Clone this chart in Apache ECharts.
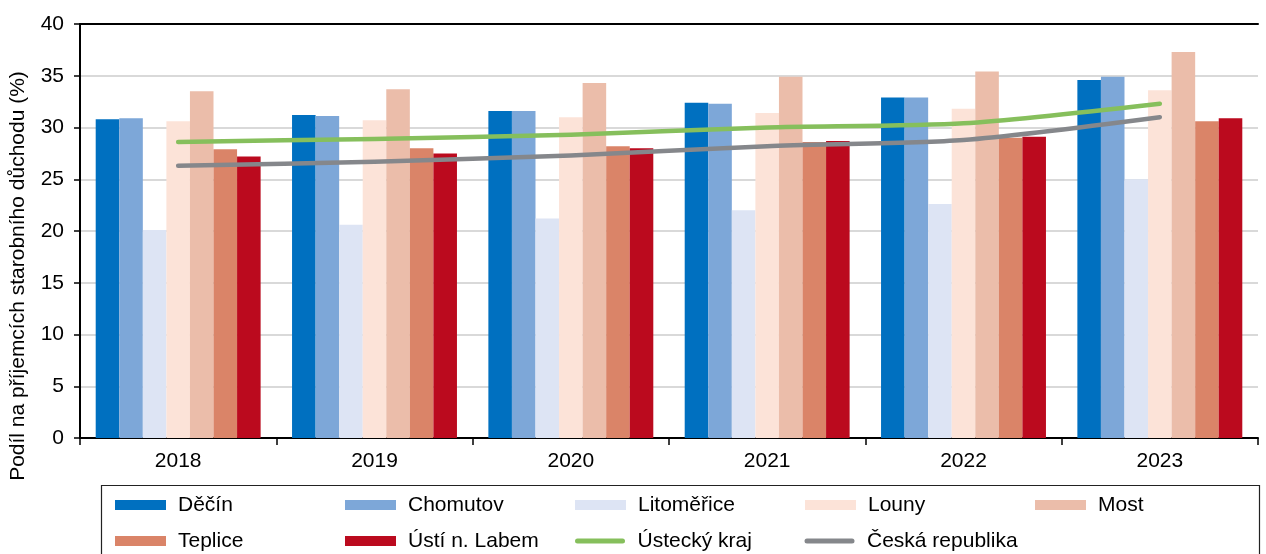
<!DOCTYPE html>
<html>
<head>
<meta charset="utf-8">
<script src="https://cdn.jsdelivr.net/npm/echarts@6/dist/echarts.min.js"></script>
<style>
  html, body { margin: 0; padding: 0; background: #fff; }
  #chart { width: 1266px; height: 554px; }
</style>
</head>
<body>
<div id="chart"></div>
<script>
// Podíl příjemců starobního důchodu podle okresů Ústeckého kraje
const years = ['2018', '2019', '2020', '2021', '2022', '2023'];

const decin       = [30.8, 31.2, 31.6, 32.4, 32.9, 34.6];
const chomutov    = [30.9, 31.1, 31.6, 32.3, 32.9, 34.9];
const litomerice  = [20.1, 20.6, 21.2, 22.0, 22.6, 25.0];
const louny       = [30.6, 30.7, 31.0, 31.4, 31.8, 33.6];
const most        = [33.5, 33.7, 34.3, 34.9, 35.4, 37.3];
const teplice     = [27.9, 28.0, 28.2, 28.6, 29.0, 30.6];
const ustiLabem   = [27.2, 27.5, 28.0, 28.7, 29.1, 30.9];
const usteckyKraj = [28.6, 28.9, 29.3, 30.0, 30.4, 32.3];
const ceskaRep    = [26.3, 26.7, 27.3, 28.2, 28.8, 31.0];

const yTicks = [0, 5, 10, 15, 20, 25, 30, 35, 40];

const FONT = '"Liberation Sans", Arial, sans-serif';
// thick rounded stroke used as the legend swatch of the line series
const LINE_ICON = 'path://M0,0M50,10M2.5,2.5L47.5,2.5A2.5,2.5,0,0,1,47.5,7.5L2.5,7.5A2.5,2.5,0,0,1,2.5,2.5Z';

function bar(name, data, color) {
  return {
    name, type: 'bar', data,
    barGap: '0%', barCategoryGap: '16%',
    itemStyle: { color },
    emphasis: { disabled: true }
  };
}
function line(name, data, color) {
  return {
    name, type: 'line', data,
    symbol: 'none', smooth: 0.25,
    lineStyle: { color, width: 4.5, cap: 'round', join: 'round' },
    itemStyle: { color },
    z: 5,
    emphasis: { disabled: true }
  };
}

const chart = echarts.init(document.getElementById('chart'), null, { renderer: 'canvas' });

chart.setOption({
  animation: false,
  backgroundColor: '#ffffff',
  textStyle: { fontFamily: FONT },
  grid: { left: 80, right: 8, top: 24, bottom: 116, containLabel: false },
  xAxis: [
    {
      type: 'category', data: years,
      axisLine: { lineStyle: { color: '#000', width: 2 } },
      axisTick: { show: true, alignWithLabel: false, length: 7, lineStyle: { color: '#000', width: 1.5 } },
      axisLabel: { color: '#000', fontSize: 21, fontFamily: FONT, margin: 13 },
      splitLine: { show: false }
    },
    {
      type: 'category', data: years, position: 'top',
      axisLine: { show: true, lineStyle: { color: '#000', width: 2 } },
      axisTick: { show: false }, axisLabel: { show: false }, splitLine: { show: false }
    }
  ],
  yAxis: {
    type: 'value',
    min: yTicks[0], max: yTicks[yTicks.length - 1], interval: 5,
    axisLine: { show: true, lineStyle: { color: '#000', width: 2 } },
    axisTick: { show: true, length: 6, lineStyle: { color: '#000', width: 1.5 } },
    axisLabel: { color: '#000', fontSize: 21, fontFamily: FONT, margin: 16 },
    splitLine: { show: true, lineStyle: { color: '#cccccc', width: 1.5 } }
  },
  legend: {
    left: 115, top: 487, width: 1150,
    orient: 'horizontal',
    itemWidth: 51, itemHeight: 10, itemGap: 0,
    padding: [0, 0, 0, 0],
    textStyle: {
      color: '#000', fontSize: 21, fontFamily: FONT,
      width: 167, lineHeight: 36, padding: [0, 0, 0, 7]
    },
    data: [
      { name: 'Děčín', icon: 'rect' },
      { name: 'Chomutov', icon: 'rect' },
      { name: 'Litoměřice', icon: 'rect' },
      { name: 'Louny', icon: 'rect' },
      { name: 'Most', icon: 'rect' },
      { name: 'Teplice', icon: 'rect' },
      { name: 'Ústí n. Labem', icon: 'rect' },
      { name: 'Ústecký kraj', icon: LINE_ICON },
      { name: 'Česká republika', icon: LINE_ICON }
    ]
  },
  graphic: [
    {
      type: 'rect',
      shape: { x: 101.5, y: 485.5, width: 1158, height: 80 },
      style: { fill: 'none', stroke: '#222', lineWidth: 1.2 },
      silent: true, z: -1
    },
    {
      type: 'text',
      x: 18, y: 276,
      rotation: Math.PI / 2,
      style: {
        text: 'Podíl na příjemcích starobního důchodu (%)',
        fontSize: 21, fontFamily: FONT, fill: '#000',
        align: 'center', verticalAlign: 'middle'
      },
      silent: true
    }
  ],
  series: [
    bar('Děčín', decin, '#0070c0'),
    bar('Chomutov', chomutov, '#7da7d8'),
    bar('Litoměřice', litomerice, '#dde4f4'),
    bar('Louny', louny, '#fce3d8'),
    bar('Most', most, '#ebbdaa'),
    bar('Teplice', teplice, '#da8468'),
    bar('Ústí n. Labem', ustiLabem, '#bb0a1e'),
    line('Ústecký kraj', usteckyKraj, '#86bf5c'),
    line('Česká republika', ceskaRep, '#85878b')
  ]
});
</script>
</body>
</html>
